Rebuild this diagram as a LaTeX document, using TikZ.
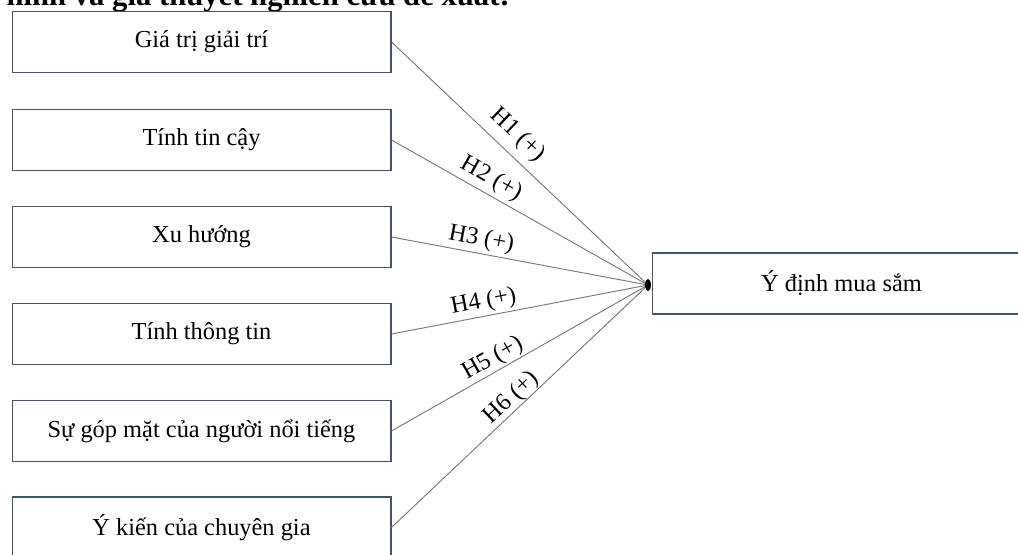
\documentclass[tikz,border=0pt]{standalone}
\usepackage{fontspec}
\setmainfont{Liberation Serif}
\usepackage{tikz}
\usepackage{xcolor}
\usetikzlibrary{arrows.meta,calc,positioning}
\definecolor{boxslate}{RGB}{68,84,106}
\definecolor{linkgray}{RGB}{120,120,120}
\tikzset{
  factor/.style={draw=boxslate,line width=1pt,fill=white,minimum width=284pt,minimum height=45.75pt,inner sep=0pt,font=\fontsize{18.3}{21}\selectfont},
  hyplink/.style={draw=linkgray,line width=0.7pt},
  hyplabel/.style={sloped,above,inner sep=2pt,font=\fontsize{18.3}{21}\selectfont}
}

\begin{document}
\begin{tikzpicture}[x=0.75pt,y=-0.75pt]
  \useasboundingbox (0,0) rectangle (1018,554);
  \clip (0,0) rectangle (1018,554);
  % title line, cut by the page edge
  \node[anchor=base east,inner sep=0pt,font=\bfseries\fontsize{23}{27}\selectfont] (title) at (510,5.5) {Mô hình và giả thuyết nghiên cứu đề xuất:};
  % factors
  \node[factor] (f1) at (201.5,42) {Giá trị giải trí};
  \node[factor] (f2) at (201.5,140) {Tính tin cậy};
  \node[factor] (f3) at (201.5,237) {Xu hướng};
  \node[factor] (f4) at (201.5,334) {Tính thông tin};
  \node[factor] (f5) at (201.5,431) {Sự góp mặt của người nổi tiếng};
  \node[factor] (f6) at (201.5,527.5) {Ý kiến của chuyên gia};
  % outcome
  \node[factor] (yd) at (841.5,283.5) {Ý định mua sắm};
  \coordinate (jn) at (648,285);
  % hypotheses
  \draw[hyplink] (f1.east) -- (jn) node[hyplabel,pos=0.44,yshift=4pt]{H1 (+)};
  \draw[hyplink] (f2.east) -- (jn) node[hyplabel,pos=0.36,yshift=1pt]{H2 (+)};
  \draw[hyplink] (f3.east) -- (jn) node[hyplabel,pos=0.34]{H3 (+)};
  \draw[hyplink] (f4.east) -- (jn) node[hyplabel,pos=0.37]{H4 (+)};
  \draw[hyplink] (f5.east) -- (jn) node[hyplabel,pos=0.42,yshift=-1pt]{H5 (+)};
  \draw[hyplink] (f6.east) -- (jn) node[hyplabel,pos=0.5,yshift=-2pt]{H6 (+)};
  \fill (jn) ellipse (2.2pt and 4.5pt);
\end{tikzpicture}
\end{document}
